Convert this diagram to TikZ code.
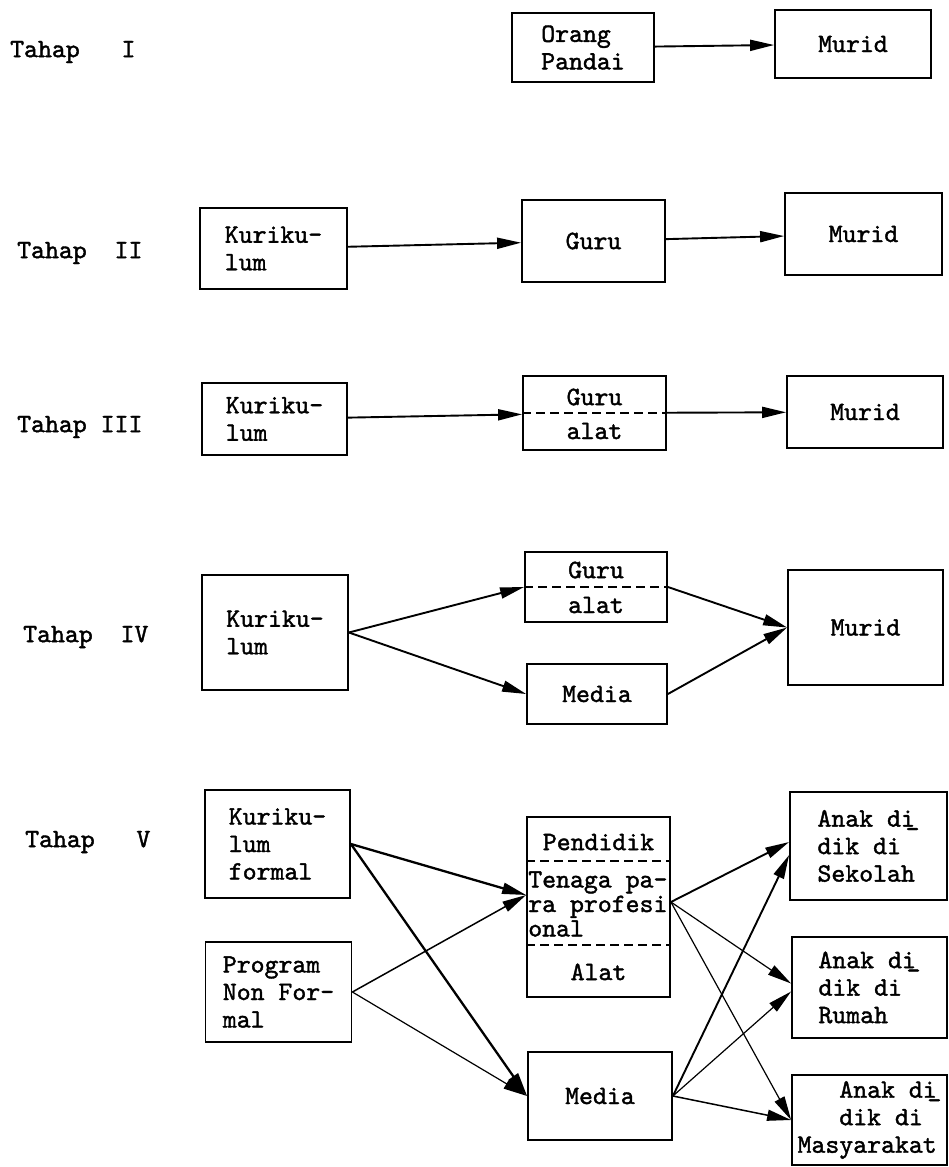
\documentclass[tikz,border=0pt]{standalone}
\usepackage{fontspec}
\setmonofont{lmmono10-regular.otf}[FakeBold=1.5]
\usetikzlibrary{positioning,arrows.meta}
\newcommand{\dibar}{\kern-0.35em\raisebox{-0.4em}{-}}

\begin{document}
\begin{tikzpicture}[
  x=1pt, y=-1pt,
  font=\ttfamily\fontsize{26.5}{27.5}\selectfont,
  box/.style={draw, line width=1.8pt, inner sep=0pt, align=left},
  lbl/.style={anchor=west, inner sep=0pt},
  divider/.style={line width=1.5pt, dash pattern=on 9pt off 5pt},
  arr/.style={-{Triangle[length=24pt,width=11pt]}, line width=1.9pt},
  arrthin/.style={arr, line width=1.2pt}]
\useasboundingbox (0,0) rectangle (949,1167);

\node[lbl] (t1) at (10,52) {Tahap\ \ \ I};
\node[box, minimum width=142pt, minimum height=69pt] (orang) at (583,47.5) {Orang\\Pandai};
\node[box, minimum width=156pt, minimum height=68pt] (murid1) at (853,44) {Murid};
\draw[arr] (orang) -- (murid1);

\node[lbl] (t2) at (17,253) {Tahap\ \ II};
\node[box, minimum width=147pt, minimum height=81pt] (kur2) at (273.5,248.5) {Kuriku-\\lum};
\node[box, minimum width=143pt, minimum height=82pt] (guru2) at (593.5,241) {Guru};
\node[box, minimum width=157pt, minimum height=82pt] (murid2) at (863.5,234) {Murid};
\draw[arr] (kur2) -- (guru2);
\draw[arr] (guru2) -- (murid2);

\node[lbl] (t3) at (17,427) {Tahap III};
\node[box, minimum width=145pt, minimum height=72pt] (kur3) at (274.5,419) {Kuriku-\\lum};
\node[box, minimum width=143pt, minimum height=74pt] (guru3) at (594.5,413) {};
\node (guru3a) at ([yshift=16pt]guru3.center) {Guru};
\node (guru3b) at ([yshift=-18pt]guru3.center) {alat};
\draw[divider] (guru3.west) -- (guru3.east);
\node[box, minimum width=156pt, minimum height=72pt] (murid3) at (865,412) {Murid};
\draw[arr] (kur3) -- (guru3);
\draw[arr] (guru3) -- (murid3);

\node[lbl] (t4) at (23,637) {Tahap\ \ IV};
\node[box, minimum width=146pt, minimum height=115pt] (kur4) at (275,632.5) {Kuriku-\\lum};
\node[box, minimum width=142pt, minimum height=70pt] (guru4) at (596,587) {};
\node (guru4a) at ([yshift=17pt]guru4.center) {Guru};
\node (guru4b) at ([yshift=-18pt]guru4.center) {alat};
\draw[divider] (guru4.west) -- (guru4.east);
\node[box, minimum width=140pt, minimum height=60pt] (media4) at (597,694) {Media};
\node[box, minimum width=155pt, minimum height=115pt] (murid4) at (865.5,627.5) {Murid};
\draw[arr] (kur4.east) -- (guru4.west);
\draw[arr] (kur4.east) -- (media4.west);
\draw[arr] (guru4.east) -- (murid4.west);
\draw[arr] (media4.east) -- (murid4.west);

\node[lbl] (t5) at (25,842) {Tahap\ \ \ V};
\node[box, minimum width=145pt, minimum height=108pt] (kurf) at (277.5,844) {Kuriku-\\lum\\formal};
\node[box, minimum width=146pt, minimum height=100pt] (nonf) at (278.5,992) {Program\\Non For-\\mal};
\node[box, minimum width=143pt, minimum height=180pt] (pend) at (598.5,907) {};
\node (pendtext) at ([yshift=-26pt]pend.north) {Pendidik};
\draw[divider] ([yshift=-45pt]pend.north west) -- ([yshift=-45pt]pend.north east);
\node[anchor=north west, align=left, inner sep=0pt, font=\ttfamily\fontsize{26.5}{24.5}\selectfont] (tenaga)
  at ([xshift=2pt,yshift=-55pt]pend.north west) {Tenaga pa-\\ra profesi\\onal};
\draw[divider] ([yshift=-129pt]pend.north west) -- ([yshift=-129pt]pend.north east);
\node (alat5) at ([yshift=26pt]pend.south) {Alat};
\node[box, minimum width=144pt, minimum height=88pt] (media5) at (600,1096) {Media};
\node[box, minimum width=157pt, minimum height=108pt] (sekolah) at (868.5,846) {Anak di\dibar\\dik di\\Sekolah};
\node[box, minimum width=155pt, minimum height=101pt] (rumah) at (869.5,987.5) {Anak di\dibar\\dik di\\Rumah};
\node[box, minimum width=155pt, minimum height=90pt] (masy) at (869.5,1120)
  {\hphantom{Mas}Anak di\dibar\\\hphantom{Mas}dik di\\Masyarakat};
\draw[arr, line width=2.3pt] (kurf.east) -- ([yshift=12pt]pend.west);
\draw[arr, line width=2.3pt] (kurf.east) -- (media5.west);
\draw[arr, line width=1.5pt] (nonf.east) -- ([yshift=12pt]pend.west);
\draw[arrthin] (nonf.east) -- (media5.west);
\draw[arr] ([yshift=5pt]pend.east) -- ([yshift=4pt]sekolah.west);
\draw[arrthin] ([yshift=5pt]pend.east) -- ([yshift=4pt]rumah.west);
\draw[arrthin] ([yshift=5pt]pend.east) -- (masy.west);
\draw[arr] (media5.east) -- ([yshift=-9pt]sekolah.west);
\draw[arrthin] (media5.east) -- ([yshift=-4pt]rumah.west);
\draw[arr, line width=1.5pt] (media5.east) -- (masy.west);
\end{tikzpicture}
\end{document}
